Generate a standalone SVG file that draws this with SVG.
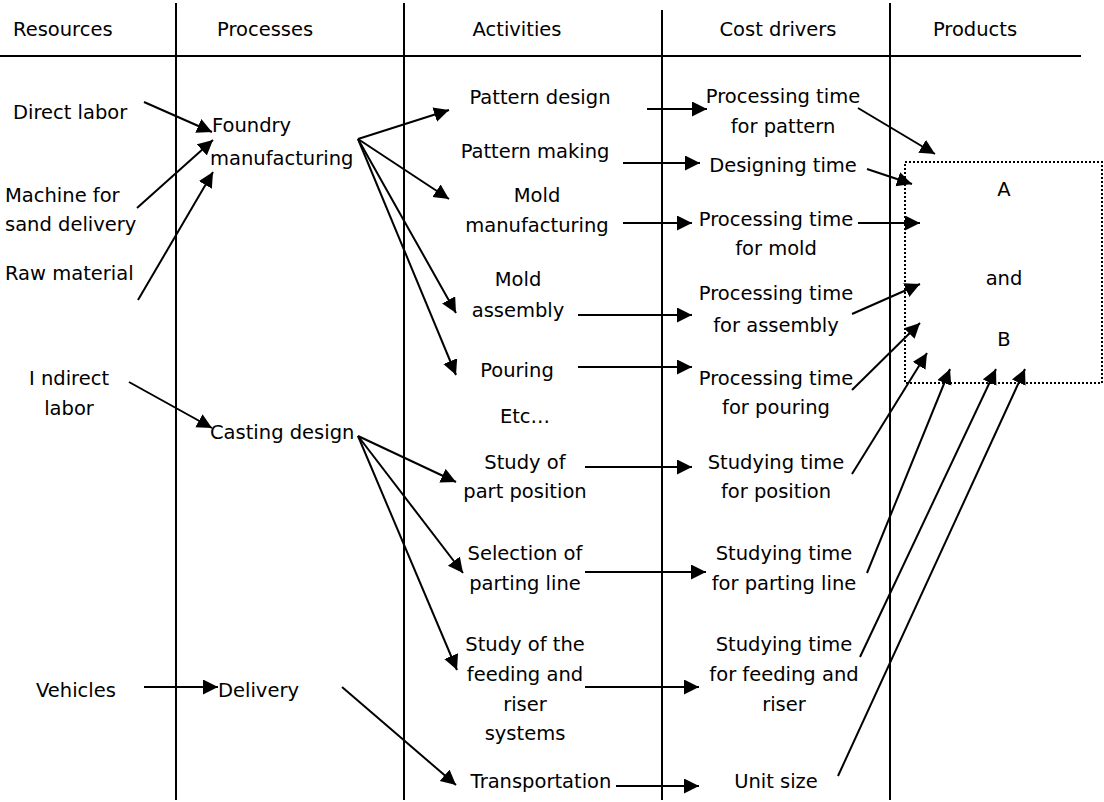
<svg xmlns="http://www.w3.org/2000/svg" width="1104" height="802" viewBox="0 0 1104 802">
<defs>
<style>
text{font-family:"DejaVu Sans","Liberation Sans",sans-serif;font-size:19.5px;fill:#000}
.m{text-anchor:middle}
.grid line{stroke:#000;stroke-width:2}
.c line{stroke:#000;stroke-width:2;marker-end:url(#ah)}
</style>
<marker id="ah" markerUnits="userSpaceOnUse" markerWidth="17" markerHeight="16" refX="15" refY="7.5" orient="auto">
<path d="M0,0 L15,7.5 L0,15 Z" fill="#000"/>
</marker>
</defs>
<rect width="1104" height="802" fill="#fff"/>
<g id="grid" class="grid">
<line x1="0" y1="56" x2="1081" y2="56"/>
<line x1="176" y1="3" x2="176" y2="800"/>
<line x1="404" y1="3" x2="404" y2="800"/>
<line x1="662" y1="10" x2="662" y2="800"/>
<line x1="890" y1="3" x2="890" y2="800"/>
</g>
<g id="headers">
<text x="13" y="36">Resources</text>
<text x="217" y="36">Processes</text>
<text class="m" x="517" y="36">Activities</text>
<text class="m" x="778" y="36">Cost drivers</text>
<text class="m" x="975" y="36">Products</text>
</g>
<g id="direct-labor"><text x="13" y="119">Direct labor</text></g>
<g id="machine"><text x="5" y="202">Machine for</text><text x="5" y="231">sand delivery</text></g>
<g id="raw-material"><text x="5" y="280">Raw material</text></g>
<g id="indirect-labor"><text class="m" x="69" y="385">I ndirect</text><text class="m" x="69" y="415">labor</text></g>
<g id="vehicles"><text x="36" y="697">Vehicles</text></g>
<g id="foundry"><text x="212" y="132">Foundry</text><text x="210" y="165">manufacturing</text></g>
<g id="casting-design"><text x="210" y="439">Casting design</text></g>
<g id="delivery"><text x="218" y="697">Delivery</text></g>
<g id="pattern-design"><text class="m" x="540" y="104">Pattern design</text></g>
<g id="pattern-making"><text class="m" x="535" y="158">Pattern making</text></g>
<g id="mold-manufacturing"><text class="m" x="537" y="202">Mold</text><text class="m" x="537" y="232">manufacturing</text></g>
<g id="mold-assembly"><text class="m" x="518" y="286">Mold</text><text class="m" x="518" y="317">assembly</text></g>
<g id="pouring"><text class="m" x="517" y="377">Pouring</text></g>
<g id="etc"><text class="m" x="525" y="423">Etc…</text></g>
<g id="study-part"><text class="m" x="525" y="469">Study of</text><text class="m" x="525" y="498">part position</text></g>
<g id="selection"><text class="m" x="525" y="560">Selection of</text><text class="m" x="525" y="590">parting line</text></g>
<g id="study-feeding"><text class="m" x="525" y="651">Study of the</text><text class="m" x="525" y="681">feeding and</text><text class="m" x="525" y="711">riser</text><text class="m" x="525" y="740">systems</text></g>
<g id="transportation"><text class="m" x="541" y="788">Transportation</text></g>
<g id="cd-pattern"><text class="m" x="783" y="103">Processing time</text><text class="m" x="783" y="133">for pattern</text></g>
<g id="cd-designing"><text class="m" x="783" y="172">Designing time</text></g>
<g id="cd-mold"><text class="m" x="776" y="226">Processing time</text><text class="m" x="776" y="255">for mold</text></g>
<g id="cd-assembly"><text class="m" x="776" y="300">Processing time</text><text class="m" x="776" y="332">for assembly</text></g>
<g id="cd-pouring"><text class="m" x="776" y="385">Processing time</text><text class="m" x="776" y="414">for pouring</text></g>
<g id="cd-position"><text class="m" x="776" y="469">Studying time</text><text class="m" x="776" y="498">for position</text></g>
<g id="cd-parting"><text class="m" x="784" y="560">Studying time</text><text class="m" x="784" y="590">for parting line</text></g>
<g id="cd-feeding"><text class="m" x="784" y="651">Studying time</text><text class="m" x="784" y="681">for feeding and</text><text class="m" x="784" y="711">riser</text></g>
<g id="cd-unit"><text class="m" x="776" y="788">Unit size</text></g>
<g id="products">
<rect x="905" y="162" width="197" height="221" fill="none" stroke="#000" stroke-width="2" stroke-dasharray="2 2"/>
<text class="m" x="1004" y="196">A</text>
<text class="m" x="1004" y="285">and</text>
<text class="m" x="1004" y="346">B</text>
</g>
<g id="connectors" class="c">
<line x1="144" y1="102" x2="212" y2="132"/>
<line x1="137" y1="208" x2="213" y2="140"/>
<line x1="138" y1="300" x2="213" y2="172"/>
<line x1="129" y1="382" x2="212" y2="428"/>
<line x1="144" y1="687" x2="218" y2="687"/>
<line x1="358" y1="139" x2="449" y2="110"/>
<line x1="358" y1="139" x2="449" y2="199"/>
<line x1="358" y1="139" x2="456" y2="313"/>
<line x1="358" y1="139" x2="456" y2="375"/>
<line x1="358" y1="436" x2="456" y2="482"/>
<line x1="358" y1="436" x2="463" y2="573"/>
<line x1="358" y1="436" x2="457" y2="670"/>
<line x1="342" y1="687" x2="456" y2="785"/>
<line x1="647" y1="109" x2="707" y2="109"/>
<line x1="623" y1="163" x2="700" y2="163"/>
<line x1="623" y1="223" x2="692" y2="223"/>
<line x1="578" y1="315" x2="692" y2="315"/>
<line x1="578" y1="367" x2="692" y2="367"/>
<line x1="585" y1="467" x2="692" y2="467"/>
<line x1="585" y1="572" x2="706" y2="572"/>
<line x1="585" y1="687" x2="699" y2="687"/>
<line x1="616" y1="786" x2="699" y2="786"/>
<line x1="858" y1="108" x2="935" y2="154"/>
<line x1="867" y1="169" x2="912" y2="184"/>
<line x1="858" y1="223" x2="920" y2="223"/>
<line x1="852" y1="314" x2="920" y2="284"/>
<line x1="852" y1="390" x2="920" y2="323"/>
<line x1="852" y1="474" x2="927" y2="353"/>
<line x1="867" y1="573" x2="950" y2="369"/>
<line x1="860" y1="657" x2="996" y2="369"/>
<line x1="838" y1="776" x2="1025" y2="369"/>
</g>
</svg>
